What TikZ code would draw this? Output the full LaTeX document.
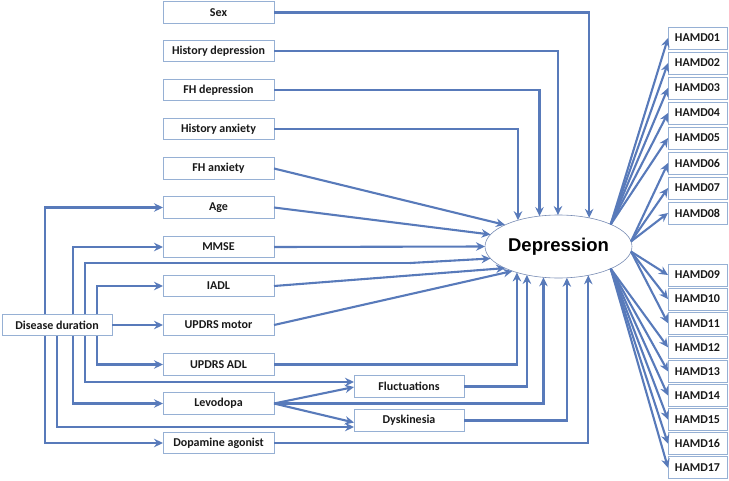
\documentclass[tikz,border=0pt]{standalone}
\usepackage{fontspec}
\setmainfont{Carlito}
\newfontfamily\depfont{Liberation Sans}
\usetikzlibrary{arrows.meta,shapes.geometric}
\definecolor{lnblue}{RGB}{88,122,186}
\definecolor{bxline}{RGB}{150,176,212}
\definecolor{elline}{RGB}{120,140,180}
\begin{document}
\begin{tikzpicture}[x=1pt,y=-1pt,
  box/.style={draw=bxline, line width=0.9pt, fill=white, minimum width=111pt, minimum height=21.5pt, inner sep=0pt, outer sep=0pt, font=\bfseries\fontsize{12}{13}\selectfont, text=black!90},
  hbox/.style={box, minimum width=59pt, minimum height=22pt},
  arr/.style={draw=lnblue, line width=2.1pt, -{Stealth[length=9pt,width=8.5pt,inset=3pt]}},
  ln/.style={draw=lnblue, line width=2.1pt}
 ]
\useasboundingbox (0,0) rectangle (729,480);

% left column
\node[box] (sex)  at (218.5,12.5)  {Sex};
\node[box] (hd)   at (218.5,51)    {History depression};
\node[box] (fhd)  at (218.5,90)    {FH depression};
\node[box] (ha)   at (218.5,129)   {History anxiety};
\node[box] (fha)  at (218.5,168.5) {FH anxiety};
\node[box] (age)  at (218.5,207.5) {Age};
\node[box] (mmse) at (218.5,247)   {MMSE};
\node[box] (iadl) at (218.5,286)   {IADL};
\node[box] (um)   at (218.5,325)   {UPDRS motor};
\node[box] (uadl) at (218.5,364.5) {UPDRS ADL};
\node[box] (levo) at (218.5,403.5) {Levodopa};
\node[box] (dopa) at (218.5,443)   {Dopamine agonist};

\node[box, minimum width=110pt] (dd) at (57,325) {Disease duration};
\node[box, minimum width=110pt] (fluct) at (409,386.5) {Fluctuations};
\node[box, minimum width=110pt] (dysk)  at (409,420.5) {Dyskinesia};

\node[ellipse, draw=elline, line width=0.6pt, fill=white, minimum width=147pt, minimum height=63pt, inner sep=0pt, outer sep=0pt, font=\depfont\bfseries\fontsize{18.5}{21}\selectfont] (dep) at (558.5,246.5) {Depression};

% HAMD column
\foreach \i/\y in {01/38,02/63,03/88,04/113,05/138,06/163,07/188,08/213,
                   09/275,10/299.1,11/323.2,12/347.3,13/371.4,14/395.5,15/419.6,16/443.7,17/467.8}
  \node[hbox] (h\i) at (697.5,\y) {HAMD\i};

% top inputs
\draw[arr] (sex.east) -| (dep.43.2);
\draw[arr] (hd.east) -| (dep.91);
\draw[arr] (fhd.east) -| (dep.122.7);
\draw[arr] (ha.east) -| (dep.147.9);
\draw[arr] (fha.east) -- (dep.158);
\draw[arr] (age.east) -- (dep.170.5);
\draw[arr] (mmse.east) -- (dep.180);
\draw[arr] (iadl.east) -- (dep.202);
\draw[arr] (um.east) -- (dep.208.5);

% bottom inputs
\draw[arr] (uadl.east) -| (dep.212.1);
\draw[arr] (fluct.east) -| (dep.222.1);
\draw[arr] (levo.east) -| (dep.244.85);
\draw[arr] (dysk.east) -| (dep.285.2);
\draw[arr] (dopa.east) -| (dep.316.8);

% levodopa to fluctuations / dyskinesia
\draw[arr] (levo.east) -- ([yshift=-0.5pt]fluct.west);
\draw[arr] (levo.east) -- ([yshift=-2pt]dysk.west);

% disease duration
\coordinate (ddbend) at (410,263);
\draw[arr] ([xshift=-12pt]dd.north) |- (age.west);
\draw[arr] ([xshift=16pt]dd.north) |- (mmse.west);
\draw[ln]  ([xshift=28pt]dd.north) |- (ddbend);
\draw[arr] (ddbend) -- (dep.190);
\draw[arr] ([xshift=40pt]dd.north) |- (iadl.west);
\draw[arr] (dd.east) -- (um.west);
\draw[arr] ([xshift=40pt]dd.south) |- (uadl.west);
\draw[arr] ([xshift=28pt]dd.south) |- ([yshift=4.5pt]fluct.west);
\draw[arr] ([xshift=16pt]dd.south) |- (levo.west);
\draw[arr] (dd.south) |- ([yshift=-6.5pt]dysk.west);
\draw[arr] ([xshift=-12pt]dd.south) |- (dopa.west);

% outputs
\foreach \i in {01,02,03,04,05} \draw[arr] (dep.23.6) -- (h\i.west);
\foreach \i in {06,07,08} \draw[arr] (dep.4) -- (h\i.west);
\foreach \i in {09,10,11} \draw[arr] (dep.-4) -- (h\i.west);
\foreach \i in {12,13,14,15,16,17} \draw[arr] (dep.-23.6) -- (h\i.west);
\end{tikzpicture}
\end{document}
